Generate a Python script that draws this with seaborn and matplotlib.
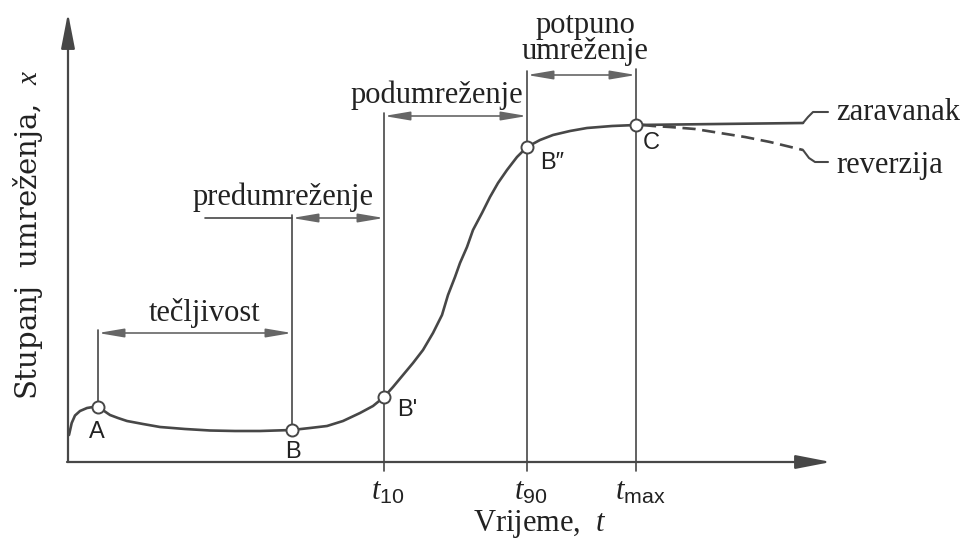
import matplotlib
matplotlib.use("Agg")
import matplotlib.pyplot as plt
import seaborn as sns
import pandas as pd

# ---- data (time t, degree of crosslinking x) ----
curve_t = [1, 3.7, 7, 12, 19, 25, 30, 34, 42, 50, 59, 75, 92, 117, 142, 167, 192,
           224, 242, 259, 275, 292, 305, 316, 325, 335, 345, 355, 365, 374, 380,
           387, 392, 399, 405, 414, 422, 430, 439, 449, 459, 472, 485, 502, 519,
           544, 568, 650, 735]
curve_x = [27, 39, 46.5, 51, 54, 55, 55, 52.5, 47, 44, 41, 38, 35, 33, 31.5, 31, 31,
           32, 34, 36, 41, 49, 56, 65, 75, 87, 99, 112, 129, 147, 167,
           185, 199, 215, 232, 249, 265, 279, 292, 305, 315, 322, 327, 331, 334,
           336, 337, 338, 339]
rev_t = [575, 585, 602, 627, 652, 677, 702, 735]
rev_x = [337, 336, 335, 333, 329, 325, 320, 312]

point_names = ["A", "B", "B'", "B\u2033", "C"]
point_t = [30, 224, 316, 459, 568]
point_x = [55, 32, 65, 315, 337]

tick_t = [316, 459, 568]
tick_labels = [r"$\mathit{t}_{\mathsf{10}}$", r"$\mathit{t}_{\mathsf{90}}$",
               r"$\mathit{t}_{\mathsf{max}}$"]

stage_names = ["te\u010dljivost", "predumre\u017eenje", "podumre\u017eenje",
               "potpuno\numre\u017eenje"]
stage_start = [30, 224, 316, 459]
stage_end = [224, 316, 459, 568]
stage_level = [129, 244, 346, 387]

x_label = "Vrijeme,  $\\mathit{t}$"
y_label = "Stupanj  umre\u017eenja,  $\\mathit{x}$"

# ---- style ----
sns.set_theme(style="white")
plt.rcParams["mathtext.fontset"] = "custom"
plt.rcParams["mathtext.rm"] = "Liberation Serif"
plt.rcParams["mathtext.it"] = "Liberation Serif:italic"
plt.rcParams["mathtext.sf"] = "Liberation Sans"
plt.rcParams["font.family"] = ["Liberation Serif", "DejaVu Serif"]

LC = "#474747"
AC = "#666666"
TC = "#222222"
FS = 22

fig = plt.figure(figsize=(9.65, 5.4), dpi=100)
ax = fig.add_axes([0, 0, 1, 1])
ax.set_xlim(-68, 897)
ax.set_ylim(-78, 462)
ax.set_axis_off()

# axes with arrows
ax.annotate("", xy=(0, 449), xytext=(0, 0),
            arrowprops=dict(arrowstyle="-|>,head_length=1.8,head_width=0.35",
                            color=LC, lw=1.6, shrinkA=0, shrinkB=0))
ax.annotate("", xy=(763, 0), xytext=(-1, 0),
            arrowprops=dict(arrowstyle="-|>,head_length=1.8,head_width=0.35",
                            color=LC, lw=1.6, shrinkA=0, shrinkB=0))

# curve
df = pd.DataFrame({"t": curve_t, "x": curve_x})
sns.lineplot(data=df, x="t", y="x", ax=ax, color=LC, lw=1.9, sort=False,
             estimator=None, zorder=3)
dfr = pd.DataFrame({"t": rev_t, "x": rev_x})
sns.lineplot(data=dfr, x="t", y="x", ax=ax, color=LC, lw=1.9, sort=False,
             estimator=None, zorder=3, linestyle=(0, (5, 2.5)))

# leader lines for zaravanak / reverzija
ax.plot([735, 740, 745, 760], [339, 345, 350, 350], color=LC, lw=1.5)
ax.plot([735, 741, 747, 760], [312, 304, 300, 300], color=LC, lw=1.5)
ax.text(768, 349, "zaravanak", fontsize=FS, va="center", ha="left", color=TC)
ax.text(768, 297, "reverzija", fontsize=FS, va="center", ha="left", color=TC)

# vertical guide lines
ax.plot([30, 30], [55, 132], color=LC, lw=1.2)
ax.plot([224, 224], [32, 247], color=LC, lw=1.2)
ax.plot([316, 316], [-9, 349], color=LC, lw=1.2)
ax.plot([459, 459], [-9, 391], color=LC, lw=1.2)
ax.plot([568, 568], [-9, 393], color=LC, lw=1.2)
# extra line left of the predumrezenje span
ax.plot([137, 224], [244, 244], color=LC, lw=1.2)

# stage dimension arrows and labels
for name, s, e, lev in zip(stage_names, stage_start, stage_end, stage_level):
    ax.annotate("", xy=(e, lev), xytext=(s, lev),
                arrowprops=dict(arrowstyle="<|-|>,head_length=1.3,head_width=0.22",
                                color=AC, lw=1.2, shrinkA=0, shrinkB=0))
label_pos = [(137, 134), (215, 250), (369, 352), (517, 396)]
for name, (lx, ly) in zip(stage_names, label_pos):
    ax.text(lx, ly, name, fontsize=FS, ha="center", va="bottom", color=TC,
            linespacing=0.85)

# points
dfp = pd.DataFrame({"t": point_t, "x": point_x})
sns.scatterplot(data=dfp, x="t", y="x", ax=ax, s=75, facecolor="white",
                edgecolor=LC, linewidth=1.4, zorder=5)
label_off = [(-1, -25), (1, -22), (13, -13), (13, -16), (7, -18)]
label_ha = ["center", "center", "left", "left", "left"]
for name, t, x, (dx, dy), ha in zip(point_names, point_t, point_x, label_off, label_ha):
    ax.text(t + dx, x + dy, name, fontsize=17, ha=ha, va="center",
            family=["Liberation Sans", "DejaVu Sans"], color=TC)

# tick labels
for t, lab in zip(tick_t, tick_labels):
    ax.text(t + 4, -30, lab, fontsize=FS, ha="center", va="center", color=TC)

ax.text(472, -62, x_label, fontsize=FS, ha="center", va="center", color=TC)
ax.text(-40, 227, y_label, fontsize=21, ha="center", va="center", rotation=90,
        color=TC, family=["DejaVu Serif"])

fig.savefig("out.png", dpi=100)
